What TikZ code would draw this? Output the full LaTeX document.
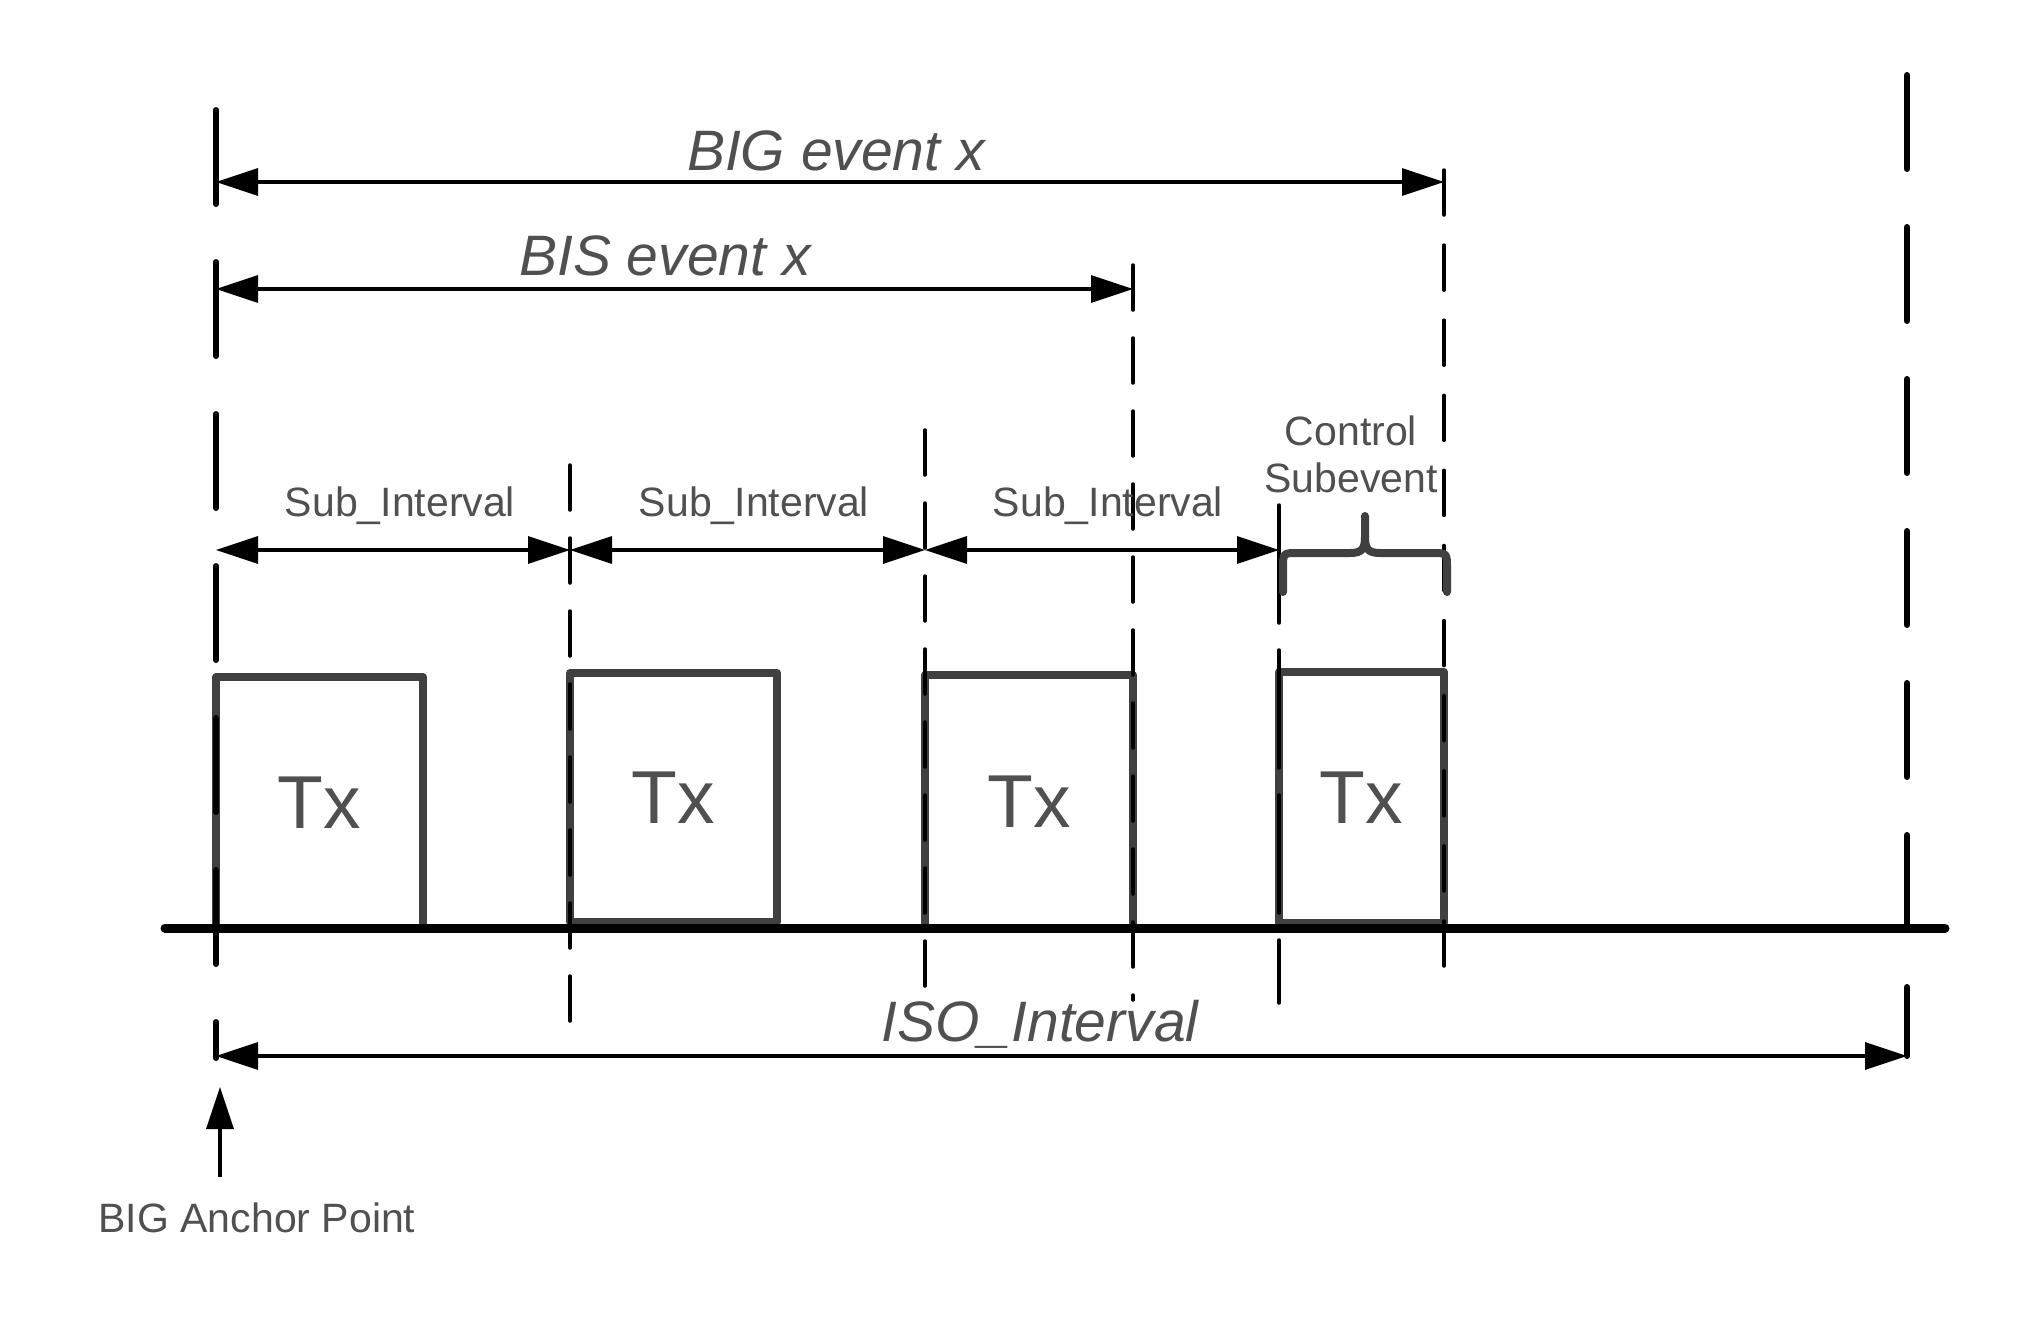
\documentclass[tikz,border=0pt]{standalone}
\usepackage{fontspec}
\setmainfont{Liberation Sans}
\usetikzlibrary{arrows.meta}
\definecolor{txtgray}{HTML}{505050}
\definecolor{boxgray}{HTML}{404040}
\begin{document}
\begin{tikzpicture}[x=1pt,y=-1pt,
  thickdash/.style={line width=6pt, line cap=round, dash pattern=on 94pt off 58pt},
  thindash/.style={line width=3.5pt, line cap=round, dash pattern=on 45pt off 28pt},
  thindashb/.style={line width=3.5pt, line cap=round, dash pattern=on 45pt off 30.1pt},
  longdash/.style={line width=3.5pt, line cap=round, dash pattern=on 118pt off 27pt},
  dimarrow/.style={line width=3.3pt, {Triangle[length=42pt,width=27pt]}-{Triangle[length=42pt,width=27pt]}},
  uparrow/.style={line width=3.3pt, -{Triangle[length=42pt,width=27pt]}},
  txbox/.style={draw=boxgray, line width=8pt, line join=round, fill=white, text=txtgray,
     font=\fontsize{75}{80}\selectfont, inner sep=0pt},
  bigitalic/.style={text=txtgray, font=\fontsize{57}{64}\selectfont\itshape, inner sep=0pt, anchor=base},
  smalllabel/.style={text=txtgray, font=\fontsize{41}{47}\selectfont, inner sep=0pt, anchor=base},
  bracestyle/.style={draw=boxgray, line width=8pt, line cap=round, line join=round}
]
\useasboundingbox (0,0) rectangle (2025,1325);

% Tx boxes
\node[txbox, minimum width=207pt, minimum height=251pt] (tx1) at (319.5,802.5) {Tx};
\node[txbox, minimum width=207pt, minimum height=249pt] (tx2) at (673.5,797.5) {Tx};
\node[txbox, minimum width=208pt, minimum height=253pt] (tx3) at (1029,801.5) {Tx};
\node[txbox, minimum width=165pt, minimum height=251pt] (tx4) at (1361.5,797.5) {Tx};

% baseline
\coordinate (base0) at (165,928);
\coordinate (base1) at (1945,928);
\draw[line width=9pt, line cap=round] (base0) -- (base1);

% vertical dashed lines
\coordinate (vLt) at (216,110);  \coordinate (vLb) at (216,1058);
\coordinate (vRt) at (1907,75);  \coordinate (vRb) at (1907,1056);
\coordinate (v1t) at (570,465);  \coordinate (v1b) at (570,1024);
\coordinate (v2t) at (925,430);  \coordinate (v2b) at (925,990);
\coordinate (v3t) at (1133,265); \coordinate (v3b) at (1133,1000);
\coordinate (v4t) at (1279,505); \coordinate (v4b) at (1279,1003);
\coordinate (v5t) at (1444,170); \coordinate (v5b) at (1444,969);
\draw[thickdash] (vLt) -- (vLb);
\draw[thickdash] (vRt) -- (vRb);
\draw[thindash] (v1t) -- (v1b);
\draw[thindash] (v2t) -- (v2b);
\draw[thindash] (v3t) -- (v3b);
\draw[longdash] (v4t) -- (v4b);
\draw[thindashb] (v5t) -- (v5b);

% dimension arrows
\coordinate (a0) at (216,182);  \coordinate (a1) at (1444,182);
\coordinate (b0) at (216,289);  \coordinate (b1) at (1133,289);
\coordinate (s0) at (216,550);  \coordinate (s1) at (570,550);
\coordinate (s2) at (925,550);  \coordinate (s3) at (1279,550);
\coordinate (i0) at (216,1056); \coordinate (i1) at (1907,1056);
\draw[dimarrow] (a0) -- (a1);
\draw[dimarrow] (b0) -- (b1);
\draw[dimarrow] (s0) -- (s1);
\draw[dimarrow] (s1) -- (s2);
\draw[dimarrow] (s2) -- (s3);
\draw[dimarrow] (i0) -- (i1);

% anchor arrow
\coordinate (p0) at (220,1177);
\coordinate (p1) at (220,1087);
\draw[uparrow] (p0) -- (p1);

% brace
\draw[bracestyle] (1283,592) -- (1283,568) .. controls (1283,553) .. (1298,553) -- (1350,553)
   .. controls (1363,553) and (1365,548) .. (1365,536) -- (1365,516);
\draw[bracestyle] (1365,536) .. controls (1365,548) and (1367,553) .. (1380,553) -- (1432,553)
   .. controls (1447,553) .. (1447,568) -- (1447,592);

% labels
\node[bigitalic] (lbig) at (836,170) {BIG event x};
\node[bigitalic] (lbis) at (665,275) {BIS event x};
\node[bigitalic] (liso) at (1040,1041) {ISO\_Interval};
\node[smalllabel] (lsub1) at (400,516) {Sub\_Interval};
\node[smalllabel] (lsub2) at (754,516) {Sub\_Interval};
\node[smalllabel] (lsub3) at (1108,516) {Sub\_Interval};
\node[smalllabel] (lctrl) at (1351,445) {Control};
\node[smalllabel] (lsube) at (1351,492) {Subevent};
\node[smalllabel] (lanchor) at (257,1232) {BIG Anchor Point};
\end{tikzpicture}
\end{document}
